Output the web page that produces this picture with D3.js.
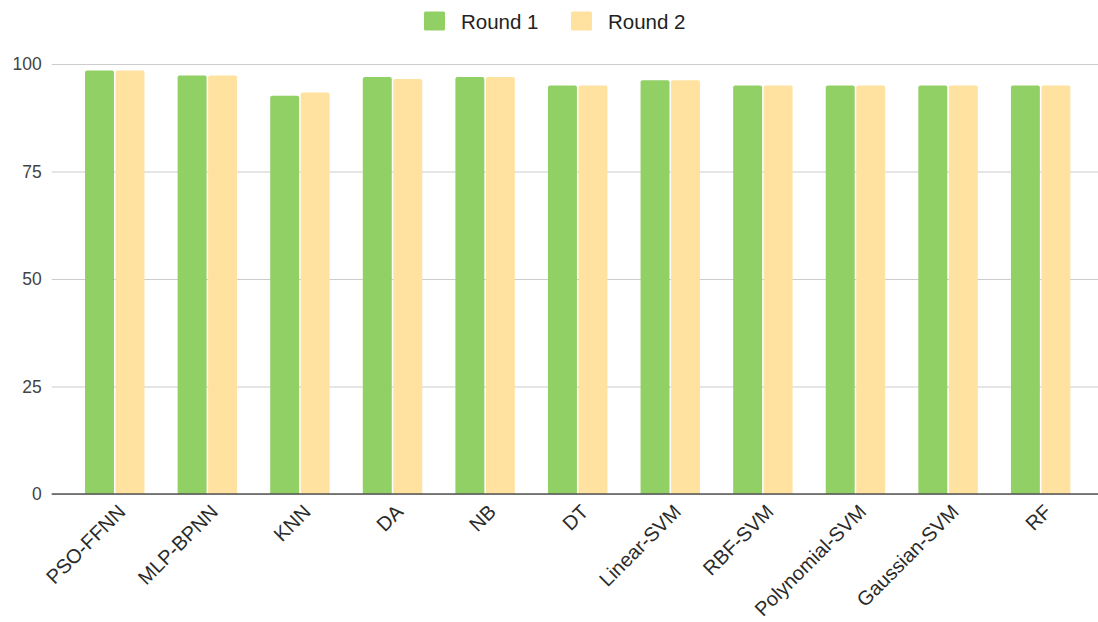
<!DOCTYPE html>
<html><head><meta charset="utf-8">
<script src="https://cdn.jsdelivr.net/npm/d3@7"></script>
<style>body{margin:0;background:#fff;} svg{display:block;font-family:Arial,"Liberation Sans",sans-serif;}</style>
</head><body>
<svg id="c" width="1098" height="622"></svg>
<script>
const categories = ["PSO-FFNN","MLP-BPNN","KNN","DA","NB","DT","Linear-SVM","RBF-SVM","Polynomial-SVM","Gaussian-SVM","RF"];
const seriesNames = ["Round 1","Round 2"];
const round1 = [98.5, 97.3, 92.6, 97.0, 97.0, 95.0, 96.2, 95.0, 95.0, 95.0, 95.0];
const round2 = [98.5, 97.3, 93.4, 96.5, 97.0, 95.0, 96.2, 95.0, 95.0, 95.0, 95.0];
const yTicks = [0, 25, 50, 75, 100];
const colors = ["#91d065", "#ffe29f"];

const svg = d3.select("#c");
const mLeft = 51.7, mRight = 1103.7, mTop = 64, mBottom = 494;
const x0 = d3.scaleBand().domain(categories).range([mLeft, mRight]).paddingInner(0.358).paddingOuter(0.36);
const x1 = d3.scaleBand().domain(seriesNames).range([0, x0.bandwidth()]).paddingInner(0.05);
const y = d3.scaleLinear().domain([0, 100]).range([mBottom, mTop]);

// gridlines
const yAxis = d3.axisLeft(y).tickValues(yTicks).tickSize(-(mRight - mLeft)).tickPadding(10);
const gy = svg.append("g").attr("transform", `translate(${mLeft},0)`).call(yAxis);
gy.select(".domain").remove();
gy.selectAll(".tick line").attr("stroke", "#cccccc").attr("stroke-width", 1.2);
gy.selectAll(".tick text").attr("fill", "#444").attr("font-size", 17.5).attr("font-family", "Arial, 'Liberation Sans', sans-serif");

// bars
const data = categories.map((c, i) => ({c, vals: [round1[i], round2[i]]}));
const groups = svg.append("g").selectAll("g").data(data).join("g")
  .attr("transform", d => `translate(${x0(d.c)},0)`);
groups.selectAll("path").data(d => d.vals.map((v, j) => ({s: seriesNames[j], v, j})))
  .join("path")
  .attr("fill", d => colors[d.j])
  .attr("d", d => {
    const xa = x1(d.s), w = x1.bandwidth(), yt = y(d.v), yb = y(0), r = 2;
    return `M${xa},${yb}V${yt + r}Q${xa},${yt} ${xa + r},${yt}H${xa + w - r}Q${xa + w},${yt} ${xa + w},${yt + r}V${yb}Z`;
  });

// baseline axis
const xAxis = d3.axisBottom(x0).tickSize(0).tickPadding(0);
const gx = svg.append("g").attr("transform", `translate(0,${mBottom})`).call(xAxis);
gx.select(".domain").attr("stroke", "#555").attr("stroke-width", 1.6).attr("d", `M${mLeft},0H${mRight}`);
gx.selectAll(".tick text")
  .attr("font-size", 20).attr("fill", "#2a2a2a")
  .attr("font-family", "Arial, 'Liberation Sans', sans-serif")
  .attr("text-anchor", "end")
  .attr("dy", "0")
  .attr("transform", "translate(12,19) rotate(-45)");

// legend
const legend = svg.append("g");
const legendX = [424, 571];
seriesNames.forEach((s, i) => {
  legend.append("rect").attr("x", legendX[i]).attr("y", 11.5).attr("width", 21).attr("height", 19).attr("rx", 1.5).attr("fill", colors[i]);
  legend.append("text").attr("x", legendX[i] + 37).attr("y", 28.5).attr("font-size", 20.5).attr("fill", "#222").text(s);
});
</script>
</body></html>
